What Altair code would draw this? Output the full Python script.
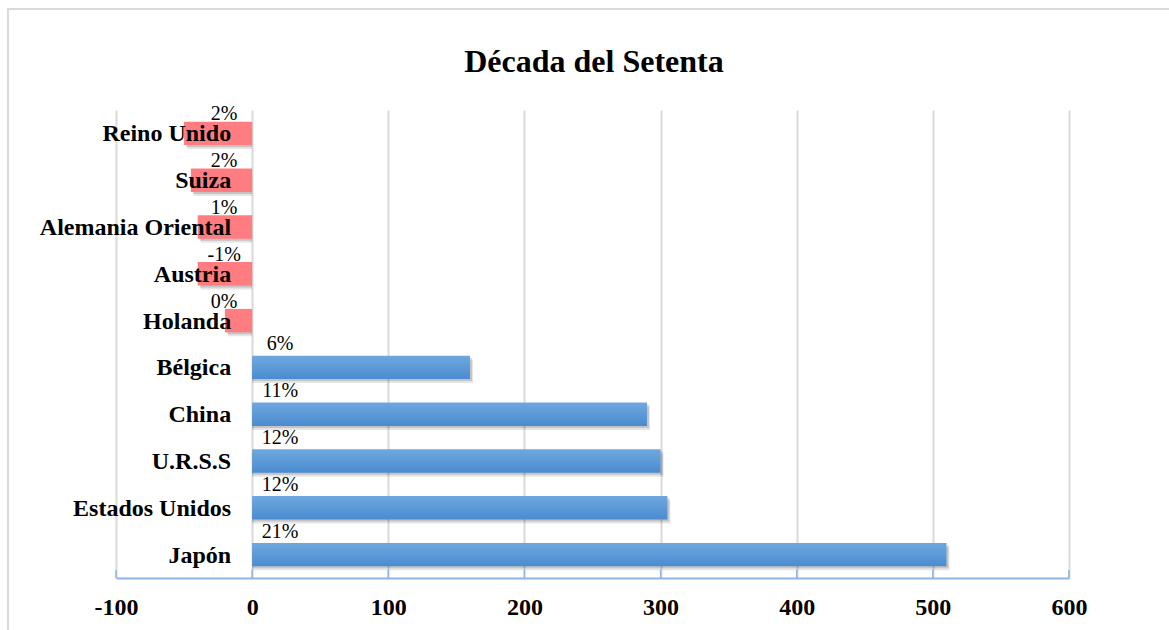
import altair as alt
import pandas as pd

paises = ["Reino Unido", "Suiza", "Alemania Oriental", "Austria", "Holanda",
          "Bélgica", "China", "U.R.S.S", "Estados Unidos", "Japón"]
valores = [-50, -45, -40, -40, -20, 160, 290, 300, 305, 510]
etiquetas = ["2%", "2%", "1%", "-1%", "0%", "6%", "11%", "12%", "12%", "21%"]
ticks_x = [-100, 0, 100, 200, 300, 400, 500, 600]
titulo = ["Década del Setenta"]

df = pd.DataFrame({"pais": paises, "valor": valores, "etiqueta": etiquetas})
df["base"] = 0
ticks_df = pd.DataFrame({"t": ticks_x})

SERIF = "Liberation Serif"
W, H = 953, 468
L, T = 116, 110

xscale = alt.Scale(domain=[-100, 600], nice=False, zero=False)
yscale = alt.Scale(domain=paises, paddingInner=0.5, paddingOuter=0.25)

base = alt.Chart(df)

x_enc = alt.X("valor:Q", scale=xscale,
              axis=alt.Axis(values=ticks_x, grid=True, gridColor="#D9D9D9", gridWidth=2,
                            ticks=False, domain=True, domainColor="#8DB4E2", domainWidth=2,
                            labelFont=SERIF, labelFontSize=24, labelFontWeight="bold",
                            labelColor="black", labelPadding=17, title=None, zindex=0,
                            labelFlush=False, labelOverlap=False,
                            labelExpr="'' + datum.value"))
y_enc = alt.Y("pais:N", scale=yscale, sort=paises, axis=None)

shadow1 = base.mark_bar(color="#000000", opacity=0.10, xOffset=3, yOffset=4).encode(
    x=x_enc, x2="base:Q", y=y_enc)
shadow2 = base.mark_bar(color="#000000", opacity=0.14, xOffset=2, yOffset=2).encode(
    x="valor:Q", x2="base:Q", y=y_enc)

grad = alt.Gradient(gradient="linear",
                    stops=[alt.GradientStop(color="#6EA8DF", offset=0),
                           alt.GradientStop(color="#4A8BD0", offset=1)],
                    x1=0, x2=0, y1=0, y2=1)

pos_bars = base.transform_filter("datum.valor > 0").mark_bar(color=grad).encode(
    x="valor:Q", x2="base:Q", y=y_enc)
neg_bars = base.transform_filter("datum.valor < 0").mark_bar(color="#FF7C80").encode(
    x="valor:Q", x2="base:Q", y=y_enc)

ticks = alt.Chart(ticks_df).mark_rule(color="#8DB4E2", strokeWidth=1.5).encode(
    x=alt.X("t:Q", scale=xscale), y=alt.value(H - 8), y2=alt.value(H))

names = base.mark_text(align="right", baseline="middle", dx=-21, dy=1, font=SERIF,
                       fontSize=24, fontWeight="bold", color="black").encode(
    x=alt.datum(0), y=y_enc, text="pais:N")

pct_neg = base.transform_filter("datum.valor < 0").mark_text(
    align="center", baseline="middle", dx=-28, dy=-19, font=SERIF, fontSize=20,
    color="black").encode(x=alt.datum(0), y=y_enc, text="etiqueta:N")
pct_pos = base.transform_filter("datum.valor > 0").mark_text(
    align="center", baseline="middle", dx=28, dy=-23, font=SERIF, fontSize=20,
    color="black").encode(x=alt.datum(0), y=y_enc, text="etiqueta:N")

title = alt.Chart(pd.DataFrame({"t": titulo})).mark_text(
    align="center", baseline="alphabetic", font=SERIF, fontSize=32, fontWeight="bold",
    color="black").encode(x=alt.value(594 - L), y=alt.value(72 - T), text="t:N")

border = alt.Chart(pd.DataFrame({"a": [0]})).mark_rect(
    fill="transparent", stroke="#D9D9D9", strokeWidth=2).encode(
    x=alt.value(8 - L), x2=alt.value(1190 - L), y=alt.value(9 - T), y2=alt.value(660 - T))

chart = alt.layer(border, shadow1, shadow2, pos_bars, neg_bars, ticks, names,
                  pct_neg, pct_pos, title).properties(
    width=W, height=H,
    padding={"left": L, "top": T, "right": 100, "bottom": 52},
    autosize=alt.AutoSizeParams(type="none"),
    background="white",
).configure_view(stroke=None)

chart.save("out.html", embed_options={"renderer": "svg", "actions": False})
